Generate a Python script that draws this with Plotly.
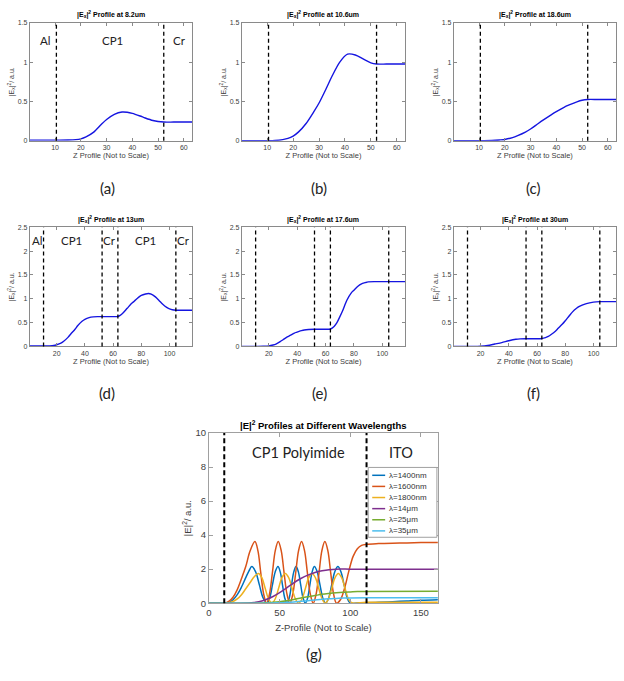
import plotly.graph_objects as go

W, H = 624, 681

# ---------------- data ----------------
z_a = [0.2, 5, 10, 15, 18, 20, 22, 25, 28, 30, 33, 36, 38, 40, 43, 45, 48, 50, 52.2, 56, 60, 63.2]
e_a = [0.008, 0.008, 0.008, 0.01, 0.015, 0.025, 0.05, 0.11, 0.21, 0.27, 0.335, 0.365, 0.362, 0.348, 0.315, 0.29, 0.258, 0.245, 0.238, 0.238, 0.238, 0.238]

z_b = [0.2, 10, 13, 16, 18, 20, 22, 25, 28, 30, 33, 35, 38, 41, 44, 47, 50, 52.2, 56, 60, 63.2]
e_b = [0, 0, 0.003, 0.015, 0.03, 0.06, 0.11, 0.22, 0.37, 0.48, 0.68, 0.82, 1.0, 1.1, 1.09, 1.04, 0.99, 0.975, 0.975, 0.975, 0.975]

z_c = [0.2, 10, 15, 18, 20, 23, 25, 28, 30, 33, 35, 38, 40, 43, 45, 48, 50, 52.2, 56, 60, 63.2]
e_c = [0, 0, 0.003, 0.01, 0.017, 0.04, 0.065, 0.11, 0.15, 0.22, 0.265, 0.33, 0.37, 0.425, 0.455, 0.495, 0.515, 0.525, 0.525, 0.525, 0.525]

z_d = [1, 10, 15, 18, 20, 23, 25, 28, 30, 33, 35, 38, 40, 43, 46, 49, 52, 56, 60, 63.5, 65, 67, 70, 73, 75, 78, 80, 83, 85, 87, 90, 93, 95, 98, 100, 102, 104.5, 108, 112, 116]
e_d = [0.01, 0.01, 0.012, 0.02, 0.035, 0.07, 0.11, 0.19, 0.26, 0.36, 0.44, 0.53, 0.57, 0.605, 0.62, 0.625, 0.625, 0.625, 0.625, 0.63, 0.65, 0.7, 0.8, 0.9, 0.95, 1.03, 1.07, 1.1, 1.11, 1.1, 1.04, 0.95, 0.89, 0.82, 0.79, 0.77, 0.76, 0.76, 0.76, 0.76]

z_e = [1, 12, 16, 20, 23, 25, 28, 30, 33, 35, 38, 40, 43, 45, 48, 52, 56, 60, 63.5, 66, 68, 70, 72, 75, 78, 80, 83, 85, 88, 90, 95, 100, 104.5, 110, 116]
e_e = [0, 0, 0.003, 0.01, 0.03, 0.05, 0.1, 0.14, 0.2, 0.23, 0.28, 0.3, 0.33, 0.345, 0.355, 0.36, 0.36, 0.36, 0.365, 0.42, 0.5, 0.62, 0.75, 0.97, 1.12, 1.18, 1.27, 1.31, 1.34, 1.355, 1.36, 1.36, 1.36, 1.36, 1.36]

z_f = [1, 15, 20, 25, 30, 35, 40, 45, 48, 52, 56, 60, 63.5, 66, 68, 70, 73, 75, 78, 80, 83, 85, 88, 90, 95, 100, 104.5, 110, 116]
e_f = [0, 0, 0.005, 0.02, 0.05, 0.08, 0.12, 0.15, 0.158, 0.16, 0.16, 0.16, 0.165, 0.185, 0.21, 0.25, 0.32, 0.38, 0.47, 0.54, 0.65, 0.72, 0.8, 0.84, 0.9, 0.93, 0.94, 0.94, 0.94]

small_titles = ["8.2um", "10.6um", "18.6um", "13um", "17.6um", "30um"]
panel_letters = ["(a)", "(b)", "(c)", "(d)", "(e)", "(f)", "(g)"]

bounds_top = [10.5, 52.2]
bounds_mid = [10.7, 52.2, 63.4, 104.5]
bounds_g = [10.8, 111.5]

labels_a = ["Al", "CP1", "Cr"]
labels_a_x = [5.9, 32.3, 58.3]
labels_d = ["Al", "CP1", "Cr", "CP1", "Cr"]
labels_d_x = [6.0, 30.3, 57.6, 83.0, 110.0]
labels_g = ["CP1 Polyimide", "ITO"]
labels_g_x = [63.0, 136.0]

# panel (g)
wl_labels = ["λ=1400nm", "λ=1600nm", "λ=1800nm", "λ=14μm", "λ=25μm", "λ=35μm"]
wl_colors = ["#0072BD", "#D95319", "#EDB120", "#7E2F8E", "#77AC30", "#4DBEEE"]

g_z_1400 = [0, 11, 14, 17, 20, 23, 26, 28.3, 30.3, 33.0, 35.65, 38.3, 41, 42.95, 44.9, 46.85, 48.8, 50.4, 52.0, 53.6, 55.2, 56.8, 58.4, 60.0, 61.6, 63.25, 64.9, 66.55, 68.2, 69.8, 71.4, 73.0, 74.6, 76.6, 78.55, 80.5, 82.5, 84.7, 86.85, 89.0, 91.2, 93.4, 95.6, 97.8, 100, 105, 111, 120, 130, 140, 150, 162]
g_e_1400 = [0, 0, 0.03, 0.2, 0.5, 0.95, 1.5, 1.9, 2.15, 1.84, 1.075, 0.31, 0, 0.31, 1.075, 1.84, 2.15, 1.84, 1.075, 0.31, 0, 0.31, 1.075, 1.84, 2.15, 1.84, 1.075, 0.31, 0, 0.31, 1.075, 1.84, 2.15, 1.84, 1.075, 0.31, 0, 0.31, 1.075, 1.84, 2.15, 1.84, 1.075, 0.31, 0, 0.005, 0.02, 0.05, 0.09, 0.13, 0.17, 0.2]

g_z_1600 = [0, 11, 14, 17, 20, 23, 26, 29, 32.5, 34.6, 36.6, 38.7, 40.75, 42.8, 44.9, 46.9, 49, 51.1, 53.1, 55.2, 57.25, 59.3, 61.4, 63.4, 65.5, 67.6, 69.6, 71.7, 73.75, 75.8, 77.9, 79.9, 82, 84.1, 86.1, 88.2, 90.25, 93, 96, 99, 102, 105, 108, 111.5, 120, 135, 150, 162]
g_e_1600 = [0, 0, 0.1, 0.35, 0.8, 1.45, 2.15, 3.05, 3.62, 3.09, 1.81, 0.53, 0, 0.53, 1.81, 3.09, 3.62, 3.09, 1.81, 0.53, 0, 0.53, 1.81, 3.09, 3.62, 3.09, 1.81, 0.53, 0, 0.53, 1.81, 3.09, 3.62, 3.09, 1.81, 0.53, 0, 0.2, 0.9, 1.9, 2.75, 3.2, 3.4, 3.46, 3.5, 3.53, 3.56, 3.57]

g_z_1800 = [0, 11, 14, 17, 20, 23, 26, 29, 32, 35, 37.4, 39.75, 42.1, 44.5, 46.9, 49.25, 51.6, 54, 56.4, 58.75, 61.1, 63.5, 65.9, 68.25, 70.6, 73, 75.3, 77.65, 80, 82.3, 84.6, 86.9, 89.2, 91.5, 93.9, 96.25, 98.6, 101, 111, 130, 162]
g_e_1800 = [0, 0, 0.02, 0.1, 0.25, 0.5, 0.85, 1.2, 1.55, 1.75, 1.5, 0.875, 0.26, 0, 0.26, 0.875, 1.5, 1.75, 1.5, 0.875, 0.26, 0, 0.26, 0.875, 1.5, 1.75, 1.5, 0.875, 0.26, 0, 0.26, 0.875, 1.5, 1.75, 1.5, 0.875, 0.26, 0.03, 0.05, 0.06, 0.06]

g_z_14 = [0, 20, 28, 32, 36, 40, 45, 50, 55, 60, 65, 70, 75, 80, 85, 90, 100, 111.5, 162]
g_e_14 = [0, 0, 0.01, 0.04, 0.1, 0.2, 0.38, 0.62, 0.9, 1.2, 1.45, 1.65, 1.8, 1.9, 1.97, 2.0, 2.0, 2.0, 2.0]

g_z_25 = [0, 30, 40, 45, 50, 55, 60, 65, 70, 75, 80, 85, 90, 95, 100, 105, 111.5, 162]
g_e_25 = [0, 0, 0.02, 0.05, 0.09, 0.15, 0.22, 0.3, 0.38, 0.45, 0.52, 0.57, 0.61, 0.64, 0.66, 0.68, 0.69, 0.7]

g_z_35 = [0, 40, 50, 55, 60, 65, 70, 75, 80, 85, 90, 95, 100, 111.5, 162]
g_e_35 = [0, 0, 0.02, 0.04, 0.07, 0.11, 0.15, 0.19, 0.23, 0.26, 0.28, 0.3, 0.31, 0.32, 0.32]

# ---------------- layout helpers ----------------
boxes = {
    1: (27, 17, 190, 137),
    2: (240, 17, 404, 137),
    3: (453, 17, 616, 137),
    4: (27, 225, 190, 346),
    5: (240, 225, 404, 346),
    6: (453, 225, 616, 346),
    7: (207, 434, 437, 607),
}


def px(x):
    return x / W


def py(y):
    return 1 - y / H


def note(x, y, text, size, color="#222", family=None, xanchor="center", xref="paper", yref="paper"):
    f = dict(size=size, color=color)
    if family:
        f["family"] = family
    return dict(xref=xref, yref=yref, x=x, y=y, text=text, showarrow=False,
                xanchor=xanchor, yanchor="middle", font=f)


CAL = "Lato, Open Sans, sans-serif"

fig = go.Figure()
layout = dict(
    width=W, height=H, autosize=False,
    margin=dict(l=0, r=0, t=0, b=0),
    paper_bgcolor="white", plot_bgcolor="white",
    showlegend=False,
    font=dict(family="Liberation Sans, Arial, sans-serif", color="#333"),
)

small_data = [(z_a, e_a), (z_b, e_b), (z_c, e_c), (z_d, e_d), (z_e, e_e), (z_f, e_f)]
annotations = []
shapes = []

for i in range(1, 8):
    x0, y0, x1, y1 = boxes[i]
    small = i <= 6
    top = i <= 3
    if small:
        xr = [0.2, 63.2] if top else [1, 116]
        xt = [10, 20, 30, 40, 50, 60] if top else [20, 40, 60, 80, 100]
        yr = [0, 1.5] if top else [0, 2.5]
        yt = [0, 0.5, 1, 1.5] if top else [0, 0.5, 1, 1.5, 2, 2.5]
        fs = 7
        lc = "#8a8a8a"
        xtitle = "Z Profile (Not to Scale)"
        ytitle = "|E<sub>x</sub>|<sup>2</sup>/ a.u."
        xstand = 2
    else:
        xr = [0, 162]
        xt = [0, 50, 100, 150]
        yr = [0, 10]
        yt = [0, 2, 4, 6, 8, 10]
        fs = 9.5
        lc = "#a0a0a0"
        xtitle = "Z-Profile (Not to Scale)"
        ytitle = "|E|<sup>2</sup>/ a.u."
        xstand = 7
    sfx = "" if i == 1 else str(i)
    layout["xaxis" + sfx] = dict(
        domain=[px(x0), px(x1)], anchor="y" + sfx, range=xr, tickvals=xt,
        showline=True, linecolor=lc, linewidth=1, mirror="ticks",
        ticks="inside", ticklen=3 if small else 4, tickcolor=lc,
        showgrid=False, zeroline=False,
        tickfont=dict(size=fs, color="#404040"),
        title=dict(text=xtitle, font=dict(size=fs + (0.5 if small else 0), color="#404040"), standoff=xstand),
    )
    layout["yaxis" + sfx] = dict(
        domain=[py(y1), py(y0)], anchor="x" + sfx, range=yr, tickvals=yt,
        showline=True, linecolor=lc, linewidth=1, mirror="ticks",
        ticks="inside", ticklen=3 if small else 4, tickcolor=lc,
        showgrid=False, zeroline=False,
        tickfont=dict(size=fs, color="#404040"),
        title=dict(text=ytitle, font=dict(size=fs, color="#404040"), standoff=2),
    )
    xa = "x" + sfx
    ya = "y" + sfx
    cx = px((x0 + x1) / 2)
    if small:
        z, e = small_data[i - 1]
        fig.add_trace(go.Scatter(x=z, y=e, xaxis=xa, yaxis=ya, mode="lines",
                                 line=dict(color="#1515e0", width=1.4, shape="spline", smoothing=0.8),
                                 hoverinfo="skip"))
        bounds = bounds_top if top else bounds_mid
        for b in bounds:
            shapes.append(dict(type="line", xref=xa, yref=ya + " domain", x0=b, x1=b, y0=0, y1=1,
                               line=dict(color="black", width=1.3, dash="4px,3px")))
        annotations.append(note(cx, py(y0 - 8),
                                "<b>|E<sub>x</sub>|<sup>2</sup> Profile at " + small_titles[i - 1] + "</b>",
                                7, color="black"))
        ly = 185 if top else 393
        lxp = [105, 318, 533][(i - 1) % 3]
        annotations.append(note(px(lxp), py(ly), panel_letters[i - 1], 15, family=CAL))
    else:
        gz = [g_z_1400, g_z_1600, g_z_1800, g_z_14, g_z_25, g_z_35]
        ge = [g_e_1400, g_e_1600, g_e_1800, g_e_14, g_e_25, g_e_35]
        for k in range(6):
            fig.add_trace(go.Scatter(x=gz[k], y=ge[k], xaxis=xa, yaxis=ya, mode="lines",
                                     line=dict(color=wl_colors[k], width=1.5, shape="spline", smoothing=1),
                                     hoverinfo="skip"))
        for b in bounds_g:
            shapes.append(dict(type="line", xref=xa, yref=ya + " domain", x0=b, x1=b, y0=0, y1=1,
                               line=dict(color="black", width=2, dash="5px,3px")))
        annotations.append(note(cx, py(y0 - 8),
                                "<b>|E|<sup>2</sup> Profiles at Different Wavelengths</b>", 9.5, color="black"))
        annotations.append(note(px(312), py(659), panel_letters[6], 15, family=CAL))
        for t, tx in zip(labels_g, labels_g_x):
            annotations.append(note(tx, 8.85, t, 14.5, family=CAL, xref=xa, yref=ya))
        # legend box
        lx0, ly0, lx1, ly1 = 367, 469, 436, 540
        shapes.append(dict(type="rect", xref="paper", yref="paper", x0=px(lx0), x1=px(lx1), y0=py(ly1), y1=py(ly0),
                           line=dict(color="#a0a0a0", width=1), fillcolor="white", layer="above"))
        for k in range(6):
            yy = 477 + k * 11.3
            shapes.append(dict(type="line", xref="paper", yref="paper", x0=px(371), x1=px(384), y0=py(yy), y1=py(yy),
                               line=dict(color=wl_colors[k], width=1.5), layer="above"))
            annotations.append(note(px(386), py(yy), wl_labels[k], 8, color="#333", xanchor="left"))

# in-panel region labels
for t, tx in zip(labels_a, labels_a_x):
    annotations.append(note(tx, 1.27, t, 11.5, family=CAL, xref="x", yref="y"))
for t, tx in zip(labels_d, labels_d_x):
    annotations.append(note(tx, 2.23, t, 11.5, family=CAL, xref="x4", yref="y4"))

layout["annotations"] = annotations
layout["shapes"] = shapes
fig.update_layout(**layout)
fig.write_html("out.html")
